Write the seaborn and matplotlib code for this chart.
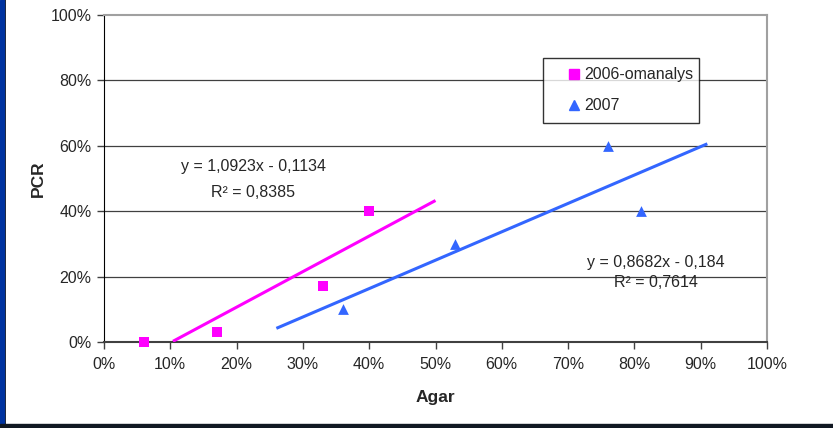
import numpy as np
import pandas as pd
import matplotlib.pyplot as plt
from matplotlib.ticker import PercentFormatter
from matplotlib.lines import Line2D
import seaborn as sns

# data (fractions)
agar_2006 = [0.06, 0.17, 0.33, 0.40]
pcr_2006 = [0.00, 0.03, 0.17, 0.40]
agar_2007 = [0.36, 0.53, 0.76, 0.81]
pcr_2007 = [0.10, 0.30, 0.60, 0.40]
series = ['2006-omanalys', '2007']
eq_text = ['y = 1,0923x - 0,1134\nR² = 0,8385', 'y = 0,8682x - 0,184\nR² = 0,7614']
trend_range = [(0.104, 0.50), (0.26, 0.91)]

df06 = pd.DataFrame({'Agar': agar_2006, 'PCR': pcr_2006})
df07 = pd.DataFrame({'Agar': agar_2007, 'PCR': pcr_2007})

sns.set_style('white')
plt.rcParams['font.family'] = ['Liberation Sans', 'DejaVu Sans']

colors = {series[0]: '#FF00FF', series[1]: '#3366FF'}
markers = {series[0]: 's', series[1]: '^'}

fig = plt.figure(figsize=(8.33, 4.28), dpi=100)
ax = fig.add_axes([104 / 833, 1 - 342 / 428, 663 / 833, 327 / 428])

sns.scatterplot(data=df06, x='Agar', y='PCR', color=colors[series[0]], marker='s',
                s=42, linewidth=0, ax=ax, zorder=4, clip_on=False)
sns.scatterplot(data=df07, x='Agar', y='PCR', color=colors[series[1]], marker='^',
                s=60, linewidth=0, ax=ax, zorder=4, clip_on=False)

# trendlines (least squares)
for (xs, ys), name, rng in zip([(agar_2006, pcr_2006), (agar_2007, pcr_2007)], series, trend_range):
    k, m = np.polyfit(xs, ys, 1)
    xx = np.array(rng)
    ax.plot(xx, k * xx + m, color=colors[name], lw=2.2, zorder=3, solid_capstyle='butt')

ax.set_xlim(0, 1)
ax.set_ylim(0, 1)
ax.set_xticks(np.arange(0, 1.01, 0.1))
ax.set_yticks(np.arange(0, 1.01, 0.2))
ax.xaxis.set_major_formatter(PercentFormatter(1.0, decimals=0))
ax.yaxis.set_major_formatter(PercentFormatter(1.0, decimals=0))
ax.tick_params(axis='both', direction='out', length=5, width=1, labelsize=11.5,
               bottom=True, left=True, color='#404040', pad=4)
ax.tick_params(axis='x', pad=6)
for y in [0.2, 0.4, 0.6, 0.8]:
    ax.axhline(y, color='#404040', lw=0.9, zorder=1)

ax.spines['left'].set_color('black')
ax.spines['bottom'].set_color('#404040')
ax.spines['bottom'].set_linewidth(1.5)
for s in ['top', 'right']:
    ax.spines[s].set_color('#a0a0a0')
    ax.spines[s].set_linewidth(1.5)

ax.set_xlabel('Agar', fontsize=12.5, fontweight='bold', labelpad=13)
ax.set_ylabel('PCR', fontsize=12.5, fontweight='bold', labelpad=3)

ax.text(0.225, 0.496, eq_text[0], ha='center', va='center', fontsize=11.5, linespacing=1.9)
ax.text(0.833, 0.2125, eq_text[1], ha='center', va='center', fontsize=11.5, linespacing=1.35)

handles = [Line2D([], [], ls='', marker=markers[n], color=colors[n],
                  markersize=6.5 if n == series[0] else 7.5) for n in series]
leg = ax.legend(handles, series, loc='upper left',
                bbox_to_anchor=(439 / 663, 1 - 43 / 327 - 0.01, 156 / 663, 0.01), mode='expand',
                frameon=True, fancybox=False, fontsize=11.5, handlelength=2.7,
                handletextpad=-0.68, labelspacing=1.0, borderpad=0.58, borderaxespad=0)
leg.get_frame().set_edgecolor('black')
leg.get_frame().set_linewidth(1)

# slide border
fig.patches.append(plt.Rectangle((0, 0), 4 / 833, 1, transform=fig.transFigure,
                                 color='#0033A0', zorder=10))
fig.add_artist(Line2D([4.5 / 833, 4.5 / 833], [0, 1], color='black', lw=1.2))
fig.patches.append(plt.Rectangle((0, 0), 1, 4 / 428, transform=fig.transFigure,
                                 color='#111822', zorder=10))

fig.savefig('out.png', dpi=100)
